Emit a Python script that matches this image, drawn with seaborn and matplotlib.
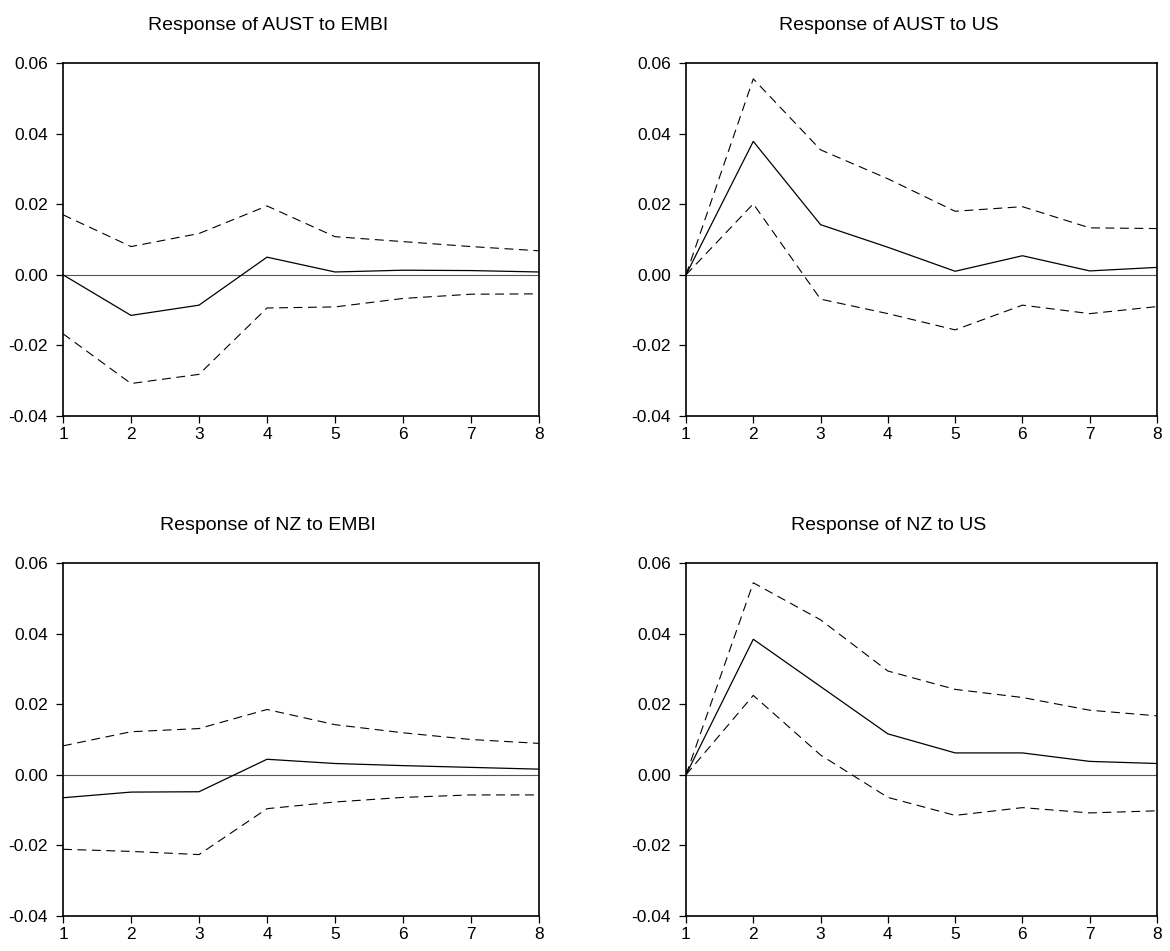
import matplotlib
matplotlib.use("Agg")
import matplotlib.pyplot as plt
import seaborn as sns
import pandas as pd
import numpy as np

periods = [1, 2, 3, 4, 5, 6, 7, 8]

titles = ["Response of AUST to EMBI", "Response of AUST to US",
          "Response of NZ to EMBI", "Response of NZ to US"]

aust_embi_mid = [0.0, -0.0115, -0.0086, 0.0050, 0.0008, 0.0013, 0.0012, 0.0008]
aust_embi_up = [0.0170, 0.0080, 0.0117, 0.0195, 0.0108, 0.0094, 0.0080, 0.0068]
aust_embi_lo = [-0.0167, -0.0308, -0.0282, -0.0094, -0.0091, -0.0067, -0.0055, -0.0054]

aust_us_mid = [0.0, 0.0378, 0.0142, 0.0078, 0.0010, 0.0054, 0.0011, 0.0021]
aust_us_up = [0.0, 0.0555, 0.0354, 0.0272, 0.0180, 0.0193, 0.0133, 0.0131]
aust_us_lo = [0.0, 0.0201, -0.0069, -0.0110, -0.0156, -0.0086, -0.0110, -0.0090]

nz_embi_mid = [-0.0065, -0.0049, -0.0048, 0.0044, 0.0032, 0.0026, 0.0021, 0.0016]
nz_embi_up = [0.0082, 0.0122, 0.0131, 0.0185, 0.0142, 0.0119, 0.0100, 0.0089]
nz_embi_lo = [-0.0211, -0.0217, -0.0226, -0.0096, -0.0077, -0.0064, -0.0057, -0.0057]

nz_us_mid = [0.0, 0.0384, 0.0250, 0.0116, 0.0062, 0.0062, 0.0038, 0.0032]
nz_us_up = [0.0, 0.0544, 0.0439, 0.0294, 0.0242, 0.0219, 0.0183, 0.0167]
nz_us_lo = [0.0, 0.0225, 0.0056, -0.0064, -0.0115, -0.0093, -0.0108, -0.0102]

y_ticks = [-0.04, -0.02, 0.00, 0.02, 0.04, 0.06]
y_ticklabels = ["-0.04", "-0.02", "0.00", "0.02", "0.04", "0.06"]

panels = [
    (aust_embi_mid, aust_embi_up, aust_embi_lo),
    (aust_us_mid, aust_us_up, aust_us_lo),
    (nz_embi_mid, nz_embi_up, nz_embi_lo),
    (nz_us_mid, nz_us_up, nz_us_lo),
]

sns.set_theme(style="white")
plt.rcParams['font.family'] = ['Liberation Sans', 'DejaVu Sans']

fig = plt.figure(figsize=(11.7, 9.51), dpi=100)
W, H = 1170, 951
boxes = [
    (63, 63, 539, 416),
    (686, 63, 1157, 416),
    (63, 563, 539, 916),
    (686, 563, 1157, 916),
]

for (l, t, r, b), title, (mid, up, lo) in zip(boxes, titles, panels):
    ax = fig.add_axes([l / W, 1 - b / H, (r - l) / W, (b - t) / H])
    df = pd.DataFrame({"period": periods, "mid": mid, "up": up, "lo": lo})
    ax.axhline(0, color="#555555", lw=0.8, zorder=1)
    sns.lineplot(data=df, x="period", y="mid", ax=ax, color="black", lw=0.9, zorder=3)
    sns.lineplot(data=df, x="period", y="up", ax=ax, color="black", lw=0.8,
                 zorder=2).lines[-1].set_dashes((8, 5))
    sns.lineplot(data=df, x="period", y="lo", ax=ax, color="black", lw=0.8,
                 zorder=2).lines[-1].set_dashes((8, 5))
    ax.set_xlim(1, 8)
    ax.set_ylim(-0.04, 0.06)
    ax.set_xticks(periods)
    ax.set_xticklabels([str(p) for p in periods])
    ax.set_yticks(y_ticks)
    ax.set_yticklabels(y_ticklabels)
    ax.set_xlabel("")
    ax.set_ylabel("")
    ax.set_title(title, fontsize=14, pad=24, x=0.43, color="black")
    for s in ax.spines.values():
        s.set_color("black")
        s.set_linewidth(1.2)
    ax.tick_params(axis="both", which="both", direction="out", length=5, width=0.9,
                   color="black", labelsize=12.5, labelcolor="black",
                   bottom=True, left=True, top=False, right=False, pad=3)
    ax.tick_params(axis="y", pad=6)

fig.savefig("out.png", dpi=100)
